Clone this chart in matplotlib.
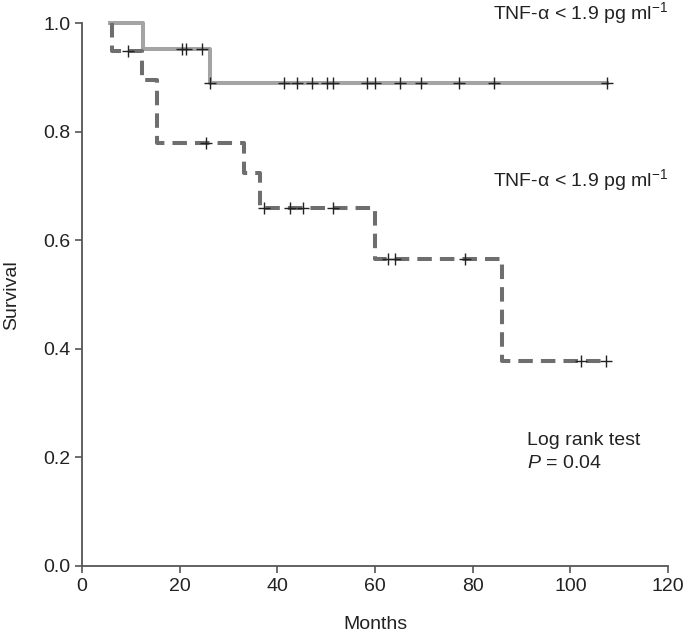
import matplotlib
matplotlib.use("Agg")
import matplotlib.pyplot as plt

plt.rcParams['font.family'] = ['Liberation Sans', 'DejaVu Sans']
plt.rcParams['mathtext.fontset'] = 'custom'
plt.rcParams['mathtext.rm'] = 'Liberation Sans'
plt.rcParams['mathtext.it'] = 'Liberation Sans:italic'

# Kaplan-Meier curves
low_t = [5.8, 12.4, 26.3, 107.6]
low_s = [1.0, 0.953, 0.89, 0.89]
low_cens_t = [20.4, 21.3, 24.5, 26.3, 41.4, 44.1, 47.2, 50.1, 51.3, 58.4, 60.1,
              65.1, 69.4, 77.3, 84.4, 107.6]
low_cens_s = [0.953, 0.953, 0.953] + [0.89] * 13

high_t = [6.2, 6.2, 12.2, 15.4, 33.1, 36.5, 60.1, 86.1, 107.3]
high_s = [1.0, 0.95, 0.895, 0.78, 0.724, 0.66, 0.566, 0.377, 0.377]
high_cens_t = [9.4, 25.4, 37.3, 42.5, 45.2, 51.5, 62.6, 64.1, 78.4, 102.1, 107.2]
high_cens_s = [0.95, 0.78, 0.66, 0.66, 0.66, 0.66, 0.566, 0.566, 0.566, 0.377, 0.377]

xticks = [0, 20, 40, 60, 80, 100, 120]
yticks = [0.0, 0.2, 0.4, 0.6, 0.8, 1.0]

fig = plt.figure(figsize=(6.85, 6.35), dpi=100)
ax = fig.add_axes([0.1197, 0.1087, 0.8555, 0.8543])

ax.step(low_t, low_s, where='post', color='#a4a4a4', lw=2.9, clip_on=False)
ax.plot(low_cens_t, low_cens_s, '+', color='#222222', ms=8, mew=1.0, clip_on=False)

line, = ax.step(high_t, high_s, where='post', color='#6e6e6e', lw=2.9, clip_on=False)
line.set_dashes((3.6, 2.0))
ax.plot(high_cens_t, high_cens_s, '+', color='#222222', ms=8, mew=1.0, clip_on=False)

ax.set_xlim(0, 120)
ax.set_ylim(0, 1.0)
ax.set_xticks(xticks)
ax.set_yticks(yticks)
ax.set_yticklabels([f"{v:.1f}" for v in yticks])

for s in ['top', 'right']:
    ax.spines[s].set_visible(False)
for s in ['left', 'bottom']:
    ax.spines[s].set_color('#555555')
    ax.spines[s].set_linewidth(1.3)
ax.tick_params(colors='#555555', labelcolor='#222222', labelsize=14,
               length=5, width=1.2)

ax.set_xlabel('Months', fontsize=14, color='#222222')
ax.xaxis.set_label_coords(0.5, -0.093)
ax.set_ylabel('Survival', fontsize=14, color='#222222')
ax.yaxis.set_label_coords(-0.105, 0.5)

label = 'TNF-α < 1.9 pg ml$^{-1}$'
ax.text(84.2, 1.02, label, fontsize=14, color='#222222', va='center', clip_on=False)
ax.text(84.2, 0.711, label, fontsize=14, color='#222222', va='center')
ax.text(91.1, 0.232, 'Log rank test', fontsize=14, color='#222222', va='center')
ax.text(91.1, 0.188, '$P$ = 0.04', fontsize=14, color='#222222', va='center')

fig.savefig('out.png', dpi=100)
